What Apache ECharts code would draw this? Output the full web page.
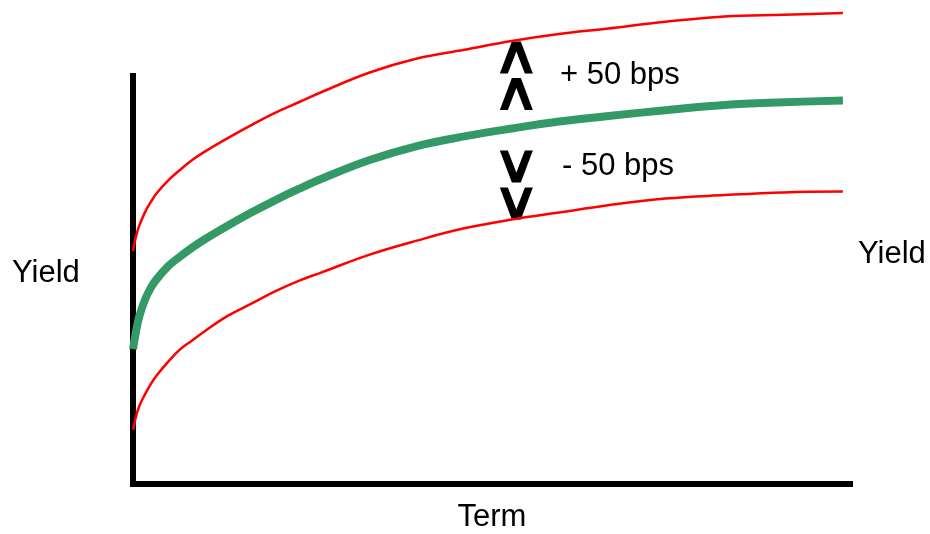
<!DOCTYPE html>
<html>
<head>
<meta charset="utf-8">
<script src="https://cdn.jsdelivr.net/npm/echarts@6/dist/echarts.min.js"></script>
<style>
  html, body { margin: 0; padding: 0; background: #fff; }
  #chart { width: 930px; height: 534px; }
</style>
</head>
<body>
<div id="chart"></div>
<script>
// Term (years) and yield curves (%): base curve and the ±50 bp parallel shifts
const terms     = [0, 0.1, 0.25, 0.5, 0.75, 1, 1.5, 2, 2.5, 3, 4, 5, 6, 7, 8, 10, 12, 14, 16, 18, 20, 22.5, 25, 27.5, 30];
const baseYield = [0.77, 0.85, 0.95, 1.05, 1.12, 1.17, 1.245, 1.30, 1.35, 1.395, 1.475, 1.55, 1.62, 1.685, 1.745,
                   1.85, 1.93, 1.985, 2.03, 2.07, 2.10, 2.135, 2.165, 2.18, 2.19];
const upYield   = [1.33, 1.40, 1.47, 1.55, 1.61, 1.66, 1.735, 1.795, 1.85, 1.895, 1.975, 2.05, 2.12, 2.18, 2.24,
                   2.35, 2.43, 2.48, 2.53, 2.57, 2.60, 2.64, 2.67, 2.68, 2.69];
const downYield = [0.31, 0.37, 0.44, 0.51, 0.57, 0.62, 0.70, 0.77, 0.82, 0.87, 0.96, 1.03, 1.10, 1.16, 1.21,
                   1.31, 1.39, 1.46, 1.51, 1.55, 1.59, 1.63, 1.65, 1.665, 1.67];

// Shift arrows: term where they sit, and yield levels of each chevron
const arrowTerm   = 16.2;
const upArrowY    = [2.436, 2.227];
const downArrowY  = [1.813, 1.602];

const labelUp   = '+ 50 bps';
const labelDown = '- 50 bps';
const yName = 'Yield';
const xName = 'Term';

const pair = (vals) => terms.map((t, i) => [t, vals[i]]);

const chevronUp   = 'path://M0,32 L12,0 L21,0 L33,32 L25,32 L16.5,10 L8,32 Z';
const chevronDown = 'path://M0,0 L8,0 L16.5,22 L25,0 L33,0 L21,32 L12,32 Z';

const chart = echarts.init(document.getElementById('chart'), null, { renderer: 'canvas' });
const font = '"Liberation Sans", Arial, sans-serif';

const axisCommon = {
  type: 'value',
  axisLine: { show: true, onZero: false, lineStyle: { color: '#000', width: 6, cap: 'square' } },
  axisTick: { show: false },
  axisLabel: { show: false },
  splitLine: { show: false }
};

const curve = (vals, color, width) => ({
  type: 'line', data: pair(vals), clip: false, showSymbol: false,
  smooth: 0.4,
  lineStyle: { color: color, width: width, cap: 'butt' },
  emphasis: { disabled: true }
});

const arrows = (symbol, ys) => ({
  type: 'scatter', clip: false, symbol: symbol, symbolSize: [33, 32],
  itemStyle: { color: '#000', opacity: 1 },
  emphasis: { disabled: true },
  data: ys.map(y => [arrowTerm, y])
});

const text = (str, x, y, align) => ({
  type: 'text', x: x, y: y,
  style: { text: str, font: '31px ' + font, fill: '#000', verticalAlign: 'middle', align: align }
});

chart.setOption({
  animation: false,
  backgroundColor: '#fff',
  grid: { left: 133, top: 76, width: 717, height: 408 },
  xAxis: Object.assign({}, axisCommon, { min: 0, max: 30.3 }),
  yAxis: Object.assign({}, axisCommon, { min: 0, max: 2.33 }),
  series: [
    curve(upYield, '#ff0000', 2.5),
    curve(downYield, '#ff0000', 2.5),
    curve(baseYield, '#339966', 8),
    arrows(chevronUp, upArrowY),
    arrows(chevronDown, downArrowY)
  ],
  graphic: [
    text(yName, 12, 273, 'left'),
    text(yName, 858, 254, 'left'),
    text(xName, 492, 517, 'center'),
    text(labelUp, 560, 75, 'left'),
    text(labelDown, 562, 166, 'left')
  ]
});
</script>
</body>
</html>
